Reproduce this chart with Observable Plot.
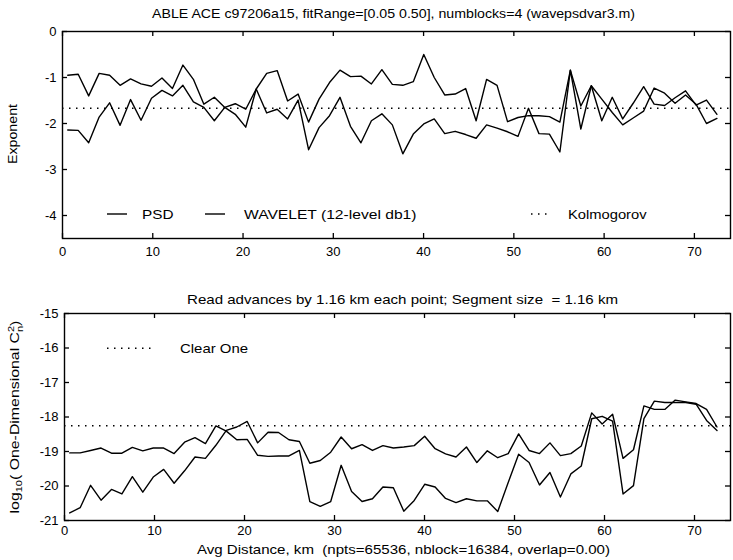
<!DOCTYPE html>
<html><head><meta charset="utf-8">
<script src="https://cdn.jsdelivr.net/npm/d3@7"></script>
<script src="https://cdn.jsdelivr.net/npm/@observablehq/plot@0.6"></script>
<style>
body{margin:0;background:#fff;}
#wrap{position:relative;width:733px;height:560px;overflow:hidden;background:#fff;font-family:"Liberation Sans",Arial,Helvetica,sans-serif;}
#wrap > svg{position:absolute;left:0;}
</style></head><body><div id="wrap"></div>
<script>
// Sampling: read advances by 1.16 km each point
const step = 1.16, start = 0.58;

// Top panel: spectral exponents
const psd = [-0.95,-0.93,-1.40,-0.91,-0.95,-1.17,-1.03,-1.14,-1.19,-1.01,-1.24,-0.73,-1.04,-1.58,-1.43,-1.65,-1.80,-2.08,-1.25,-0.91,-0.85,-1.51,-1.36,-1.97,-1.47,-1.11,-0.84,-0.98,-0.97,-1.14,-0.83,-1.15,-1.17,-1.09,-0.50,-1.00,-1.38,-1.36,-1.24,-1.94,-1.04,-1.17,-1.96,-1.87,-1.83,-1.83,-1.85,-1.97,-0.84,-1.62,-1.18,-1.94,-1.43,-1.90,-1.56,-1.20,-1.58,-1.61,-1.44,-1.29,-1.60,-1.49,-1.80];
const wavelet = [-2.14,-2.15,-2.42,-1.86,-1.55,-2.04,-1.48,-1.93,-1.45,-1.28,-1.40,-1.17,-1.53,-1.65,-1.94,-1.65,-1.57,-1.69,-1.25,-1.77,-1.69,-1.90,-1.49,-2.57,-2.09,-1.83,-1.43,-2.06,-2.42,-1.94,-1.79,-2.03,-2.66,-2.23,-2.01,-1.90,-2.22,-2.17,-2.24,-2.32,-2.03,-2.10,-2.18,-2.28,-1.67,-2.22,-2.23,-2.62,-0.84,-2.12,-1.18,-1.47,-1.76,-2.03,-1.88,-1.73,-1.23,-1.34,-1.56,-1.38,-1.58,-2.00,-1.89];
const kolmogorov = -5 / 3;

// Bottom panel: log10 Cn2
const cnPsd = [-19.04,-19.04,-18.97,-18.90,-19.05,-19.05,-18.88,-18.98,-18.90,-18.90,-19.06,-18.73,-18.60,-18.77,-18.26,-18.41,-18.66,-18.65,-19.11,-19.14,-19.13,-19.13,-18.97,-20.45,-20.59,-20.45,-19.40,-20.16,-20.45,-20.37,-20.03,-20.05,-20.73,-20.42,-19.95,-20.03,-20.36,-20.48,-20.37,-20.43,-20.43,-20.74,-19.90,-19.08,-19.32,-19.97,-19.61,-20.32,-19.65,-19.42,-18.05,-17.98,-18.12,-20.23,-19.99,-18.05,-17.54,-17.58,-17.58,-17.58,-17.63,-18.10,-18.39];
const cnWavelet = [-20.78,-20.63,-19.98,-20.41,-20.10,-20.23,-19.73,-20.18,-19.74,-19.52,-19.92,-19.56,-19.16,-19.20,-18.82,-18.39,-18.29,-18.13,-18.75,-18.44,-18.45,-18.66,-18.71,-19.34,-19.26,-19.02,-18.58,-18.92,-18.80,-18.97,-18.83,-18.90,-18.87,-18.83,-18.56,-18.92,-19.07,-19.16,-18.87,-19.32,-18.98,-19.18,-19.06,-18.49,-18.97,-19.06,-18.75,-19.12,-19.06,-18.84,-17.88,-18.20,-17.92,-19.20,-18.95,-17.68,-17.78,-17.78,-17.51,-17.56,-17.61,-17.78,-18.29];
const clearOne = -18.25;

// Ticks
const xTicks = [0, 10, 20, 30, 40, 50, 60, 70];
const xDomain = [0, 74];
const yTicksTop = [0, -1, -2, -3, -4];
const yDomainTop = [-4.5, 0];
const yTicksBot = [-15, -16, -17, -18, -19, -20, -21];
const yDomainBot = [-21, -15];

const W = 733;
const FONT = '"Liberation Sans", Arial, Helvetica, sans-serif';

function panel({height, mt, mb, ml, mr, yDomain, yTicks, series, refY, xPad}) {
  const frameH = height - mt - mb, frameW = W - ml - mr, tk = 5;
  const rows = [];
  series.forEach((vals, s) => vals.forEach((v, i) => rows.push({d: start + step * i, v, s})));
  return Plot.plot({
    width: W, height,
    marginTop: mt, marginBottom: mb, marginLeft: ml, marginRight: mr,
    style: {fontFamily: FONT, fontSize: "13px", color: "#000", background: "transparent", overflow: "visible"},
    x: {domain: xDomain, label: null},
    y: {domain: yDomain, label: null},
    marks: [
      Plot.ruleY([refY], {stroke: "#000", strokeWidth: 1.5, strokeDasharray: "1.5,5.5"}),
      Plot.line(rows, {x: "d", y: "v", z: "s", stroke: "#000", strokeWidth: 1.4}),
      Plot.frame({stroke: "#000", strokeWidth: 1.4}),
      Plot.tickX(xTicks, {x: d => d, insetTop: frameH - tk, stroke: "#000", strokeWidth: 1.3}),
      Plot.tickX(xTicks, {x: d => d, insetBottom: frameH - tk, stroke: "#000", strokeWidth: 1.3}),
      Plot.tickY(yTicks, {y: d => d, insetRight: frameW - tk, stroke: "#000", strokeWidth: 1.3}),
      Plot.tickY(yTicks, {y: d => d, insetLeft: frameW - tk, stroke: "#000", strokeWidth: 1.3}),
      Plot.axisX(xTicks, {tickSize: 0, tickPadding: xPad, tickFormat: d => String(d), label: null}),
      Plot.axisY(yTicks, {tickSize: 0, tickPadding: 6, tickFormat: d => String(d), label: null})
    ]
  });
}

const wrap = document.getElementById("wrap");
const topPanel = panel({height: 262, mt: 31, mb: 24, ml: 62, mr: 3, yDomain: yDomainTop, yTicks: yTicksTop, series: [psd, wavelet], refY: kolmogorov, xPad: 8});
topPanel.style.top = "0px";
wrap.appendChild(topPanel);
const botPanel = panel({height: 280, mt: 33, mb: 40, ml: 64, mr: 3, yDomain: yDomainBot, yTicks: yTicksBot, series: [cnPsd, cnWavelet], refY: clearOne, xPad: 5});
botPanel.style.top = "280px";
wrap.appendChild(botPanel);

// Text overlay: titles, axis labels, legends
const NS = "http://www.w3.org/2000/svg";
const ov = document.createElementNS(NS, "svg");
ov.setAttribute("width", W); ov.setAttribute("height", 560);
ov.style.top = "0px";
ov.setAttribute("font-family", FONT);
ov.setAttribute("font-size", "13");
function txt(str, x, y, len, opts = {}) {
  const t = document.createElementNS(NS, "text");
  t.setAttribute("x", x); t.setAttribute("y", y);
  t.setAttribute("xml:space", "preserve");
  t.style.whiteSpace = "pre";
  if (len) { t.setAttribute("textLength", len); t.setAttribute("lengthAdjust", "spacingAndGlyphs"); }
  if (opts.rotate) t.setAttribute("transform", `rotate(-90 ${x} ${y})`);
  if (opts.anchor) t.setAttribute("text-anchor", opts.anchor);
  t.textContent = str;
  ov.appendChild(t);
  return t;
}
function seg(x1, x2, y, dash) {
  const l = document.createElementNS(NS, "line");
  l.setAttribute("x1", x1); l.setAttribute("x2", x2); l.setAttribute("y1", y); l.setAttribute("y2", y);
  l.setAttribute("stroke", "#000"); l.setAttribute("stroke-width", dash ? 1.5 : 1.4);
  if (dash) l.setAttribute("stroke-dasharray", dash);
  ov.appendChild(l);
}
txt("ABLE ACE c97206a15, fitRange=[0.05 0.50], numblocks=4 (wavepsdvar3.m)", 152, 18, 483);
txt("Exponent", 17, 134, 60, {rotate: true, anchor: "middle"});
seg(107, 127, 214); txt("PSD", 142, 218.5, 31.5);
seg(205, 225, 214); txt("WAVELET (12-level db1)", 244, 218.5, 172.5);
seg(531, 549, 214, "1.5,5.5"); txt("Kolmogorov", 568, 218.5, 78.5);

txt("Read advances by 1.16 km each point; Segment size \u00A0= 1.16 km", 187, 303.5, 431);
seg(107, 152, 348.3, "1.5,5.5"); txt("Clear One", 180, 353, 68);
txt("Avg Distance, km \u00A0(npts=65536, nblock=16384, overlap=0.00)", 197, 554, 413);

// y label of bottom panel with sub/superscripts
const yl = document.createElementNS(NS, "text");
yl.setAttribute("transform", "translate(19 417) rotate(-90) scale(1.22 1)");
yl.setAttribute("text-anchor", "middle");
yl.innerHTML = 'log<tspan font-size="9" dy="3">10</tspan><tspan dy="-3">( One-Dimensional C</tspan><tspan font-size="9" dy="-5">2</tspan><tspan font-size="9" dx="-5" dy="9">n</tspan><tspan dy="-4">)</tspan>';
ov.appendChild(yl);
wrap.appendChild(ov);
</script></body></html>
